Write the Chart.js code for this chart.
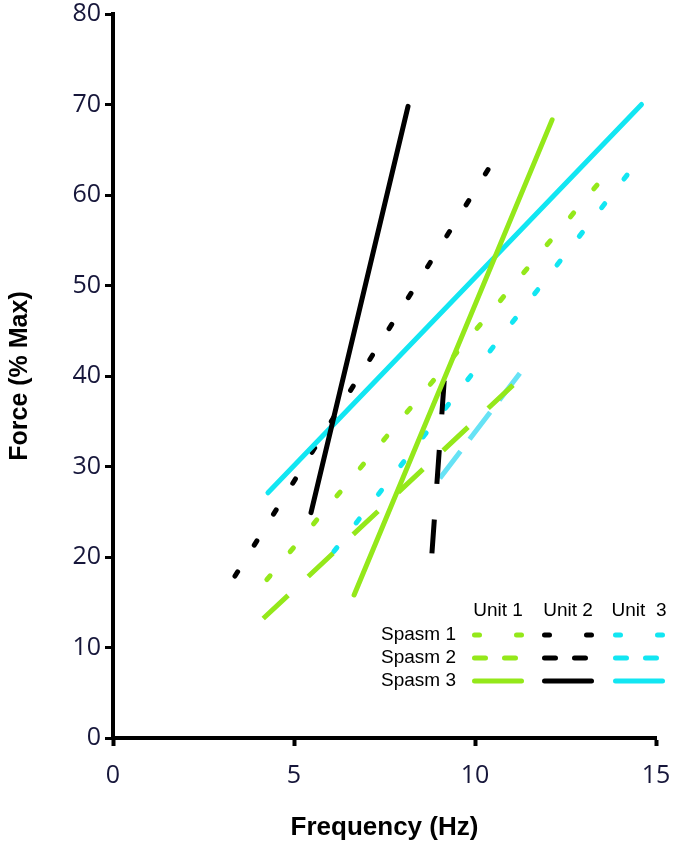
<!DOCTYPE html>
<html>
<head>
<meta charset="utf-8">
<script src="https://cdn.jsdelivr.net/npm/chart.js@4.4.1/dist/chart.umd.min.js"></script>
<style>
  html, body { margin: 0; padding: 0; background: #fff; }
  #wrap { width: 677px; height: 850px; }
</style>
</head>
<body>
<div id="wrap"><canvas id="chart" width="677" height="850"></canvas></div>
<script>
"use strict";

// endpoints [x (Hz), y (% max)]
var unit1Spasm1 = [[4.25, 17.5], [13.37, 61.1]];
var unit1Spasm2 = [[4.15, 13.2], [11.05, 39.0]];
var unit1Spasm3 = [[6.66, 15.8], [12.13, 68.3]];
var unit2Spasm1 = [[3.37, 17.9], [10.36, 62.8]];
var unit2Spasm2 = [[8.81, 20.4], [9.15, 39.5]];
var unit2Spasm3 = [[5.47, 24.9], [8.15, 69.8]];
var unit3Spasm1 = [[6.1, 20.6], [14.2, 62.2]];
var unit3Spasm2 = [[9.03, 28.7], [11.24, 40.3]];
var unit3Spasm3 = [[4.28, 27.1], [14.6, 70.0]];

var UNITS = ['Unit 1', 'Unit 2', 'Unit  3'];
var SPASMS = ['Spasm 1', 'Spasm 2', 'Spasm 3'];
var UNIT_COLORS = ['#94e81a', '#000000', '#12e6f2'];
var X_TICKS = [0, 5, 10, 15];
var Y_TICKS = [0, 10, 20, 30, 40, 50, 60, 70, 80];

function toPoints(arr) {
    return arr.map(function(p) {
        return { x: p[0], y: p[1] };
    });
}

// stretch the gap a little so a dash sits on both ends of the line
function fitDash(pts, dash, gap) {
    return function(ctx) {
        var xs = ctx.chart.scales.x, ys = ctx.chart.scales.y;
        if (!xs || !ys) {
            return [dash, gap];
        }
        var dx = xs.getPixelForValue(pts[1][0]) - xs.getPixelForValue(pts[0][0]);
        var dy = ys.getPixelForValue(pts[1][1]) - ys.getPixelForValue(pts[0][1]);
        var len = Math.sqrt(dx * dx + dy * dy);
        var n = Math.max(1, Math.round((len - dash) / (dash + gap)));
        return [dash, (len - dash) / n - dash];
    };
}

function lineSet(label, pts, color, style) {
    var ds = {
        label: label,
        data: toPoints(pts),
        borderColor: color,
        borderWidth: 5,
        pointRadius: 0,
        fill: false,
        tension: 0
    };
    if (style === 'dotted') {
        ds.borderDash = fitDash(pts, 5, 32);
        ds.borderCapStyle = 'round';
    } else if (style === 'dashed') {
        ds.borderDash = fitDash(pts, 34, 23);
        ds.borderCapStyle = 'butt';
    } else {
        ds.borderCapStyle = 'round';
    }
    return ds;
}

// first dataset is drawn on top
var datasets = [
    lineSet('Unit 1 Spasm 3', unit1Spasm3, UNIT_COLORS[0], 'solid'),
    lineSet('Unit 2 Spasm 3', unit2Spasm3, UNIT_COLORS[1], 'solid'),
    lineSet('Unit 3 Spasm 3', unit3Spasm3, UNIT_COLORS[2], 'solid'),
    lineSet('Unit 1 Spasm 2', unit1Spasm2, UNIT_COLORS[0], 'dashed'),
    lineSet('Unit 2 Spasm 2', unit2Spasm2, UNIT_COLORS[1], 'dashed'),
    lineSet('Unit 3 Spasm 2', unit3Spasm2, '#66e2f5', 'dashed'),
    lineSet('Unit 2 Spasm 1', unit2Spasm1, UNIT_COLORS[1], 'dotted'),
    lineSet('Unit 1 Spasm 1', unit1Spasm1, UNIT_COLORS[0], 'dotted'),
    lineSet('Unit 3 Spasm 1', unit3Spasm1, UNIT_COLORS[2], 'dotted')
];

// table style key drawn in the lower right corner
var keyPlugin = {
    id: 'spasmKey',
    afterDraw: function(chart) {
        var ctx = chart.ctx;
        var colX = [472, 542, 613];
        var rowY = [635, 658, 681];
        var sampleW = 52;
        ctx.save();
        ctx.fillStyle = '#000';
        ctx.font = '19px "Liberation Sans", Arial, sans-serif';
        ctx.textBaseline = 'middle';
        ctx.textAlign = 'center';
        UNITS.forEach(function(u, i) {
            ctx.fillText(u, colX[i] + sampleW / 2, 611);
        });
        ctx.textAlign = 'right';
        SPASMS.forEach(function(s, j) {
            ctx.fillText(s, 456, rowY[j]);
        });
        var dashes = [[5, 37], [11, 19], []];
        ctx.lineWidth = 5;
        ctx.lineCap = 'round';
        UNIT_COLORS.forEach(function(c, i) {
            rowY.forEach(function(y, j) {
                ctx.strokeStyle = c;
                ctx.setLineDash(dashes[j]);
                ctx.beginPath();
                ctx.moveTo(colX[i] + 2.5, y);
                ctx.lineTo(colX[i] + sampleW - 2.5, y);
                ctx.stroke();
            });
        });
        ctx.restore();
    }
};

var tickFont = { family: '"Open Sans", sans-serif', size: 25 };
var titleFamily = '"Liberation Sans", Arial, sans-serif';

new Chart(document.getElementById('chart'), {
    type: 'line',
    data: { datasets: datasets },
    plugins: [keyPlugin],
    options: {
        responsive: false,
        animation: false,
        devicePixelRatio: 1,
        layout: { padding: { top: 14, right: 21, left: 0, bottom: 0 } },
        plugins: {
            legend: { display: false },
            tooltip: { enabled: false }
        },
        scales: {
            x: {
                type: 'linear',
                min: 0,
                max: 15,
                afterBuildTicks: function(scale) {
                    scale.ticks = X_TICKS.map(function(v) { return { value: v }; });
                },
                afterFit: function(scale) {
                    scale.height = 112;
                    scale.paddingLeft = 0;
                    scale.paddingRight = 0;
                },
                border: { display: true, color: '#000', width: 4 },
                grid: { drawOnChartArea: false, drawTicks: true, tickLength: 8, tickWidth: 4, color: '#000' },
                ticks: { font: tickFont, color: '#16163a', padding: 15, maxRotation: 0 },
                title: { display: true, text: 'Frequency (Hz)', font: { family: titleFamily, size: 26, weight: 'bold' }, color: '#000', padding: { top: 0, bottom: 7 } }
            },
            y: {
                type: 'linear',
                min: 0,
                max: 80,
                afterBuildTicks: function(scale) {
                    scale.ticks = Y_TICKS.map(function(v) { return { value: v }; });
                },
                afterFit: function(scale) {
                    scale.width = 113;
                    scale.paddingTop = 0;
                    scale.paddingBottom = 0;
                },
                border: { display: true, color: '#000', width: 4 },
                grid: { drawOnChartArea: false, drawTicks: true, tickLength: 8, tickWidth: 3, color: '#000' },
                ticks: { font: tickFont, color: '#16163a', padding: 4 },
                title: { display: true, text: 'Force (% Max)', font: { family: titleFamily, size: 25, weight: 'bold' }, color: '#000', padding: { top: 5, bottom: 0 } }
            }
        }
    }
});
</script>
</body>
</html>
